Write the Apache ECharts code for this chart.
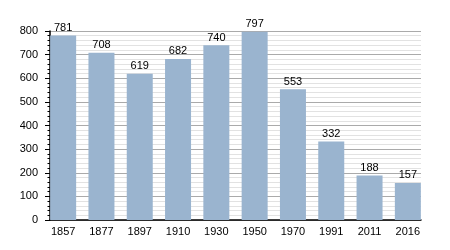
<!DOCTYPE html>
<html><head><meta charset="utf-8">
<script src="https://cdn.jsdelivr.net/npm/echarts@6/dist/echarts.min.js"></script>
<style>html,body{margin:0;padding:0;background:#fff}#c{width:450px;height:250px}</style>
</head><body><div id="c"></div>
<script>
const years = ['1857','1877','1897','1910','1930','1950','1970','1991','2011','2016'];
const population = [781, 708, 619, 682, 740, 797, 553, 332, 188, 157];
const yTicks = [0, 100, 200, 300, 400, 500, 600, 700, 800];

const chart = echarts.init(document.getElementById('c'), null, {renderer:'canvas'});
const font = 'Liberation Sans, Arial, sans-serif';
chart.setOption({
  animation: false,
  backgroundColor: '#fff',
  grid: [
    {left: 50, right: 29, top: 31, bottom: 30},
    {left: 44, right: 23, top: 31, bottom: 30}
  ],
  xAxis: [
    {gridIndex: 0, type: 'category', data: years, axisLine: {show: true, lineStyle: {color: '#000', width: 1.5}},
     axisTick: {show: false}, axisLabel: {show: false}, splitLine: {show: false}},
    {gridIndex: 1, type: 'category', data: years, axisLine: {show: false}, axisTick: {show: false},
     axisLabel: {show: true, color: '#000', fontFamily: font, fontSize: 11, margin: 6}}
  ],
  yAxis: [
    {gridIndex: 0, type: 'value', min: yTicks[0], max: yTicks[yTicks.length-1], interval: 100,
     axisLine: {show: true, lineStyle: {color: '#000', width: 1.5}},
     axisTick: {show: true, length: 5, lineStyle: {color: '#000'}},
     minorTick: {show: true, splitNumber: 5, length: 2.5, lineStyle: {color: '#000'}},
     splitLine: {show: true, lineStyle: {color: '#aaaaaa', width: 1}},
     minorSplitLine: {show: true, lineStyle: {color: '#e2e2e2', width: 1}},
     axisLabel: {color: '#000', fontFamily: font, fontSize: 11, margin: 12,
       formatter: v => yTicks.includes(v) ? String(v) : ''}},
    {gridIndex: 1, type: 'value', min: yTicks[0], max: yTicks[yTicks.length-1], show: false, splitLine: {show: false}}
  ],
  series: [{
    type: 'bar', xAxisIndex: 1, yAxisIndex: 1, data: population, barWidth: 26,
    itemStyle: {color: '#9ab4cf'},
    label: {show: true, position: 'top', color: '#000', fontFamily: font, fontSize: 11, distance: 2}
  }]
});
</script></body></html>
